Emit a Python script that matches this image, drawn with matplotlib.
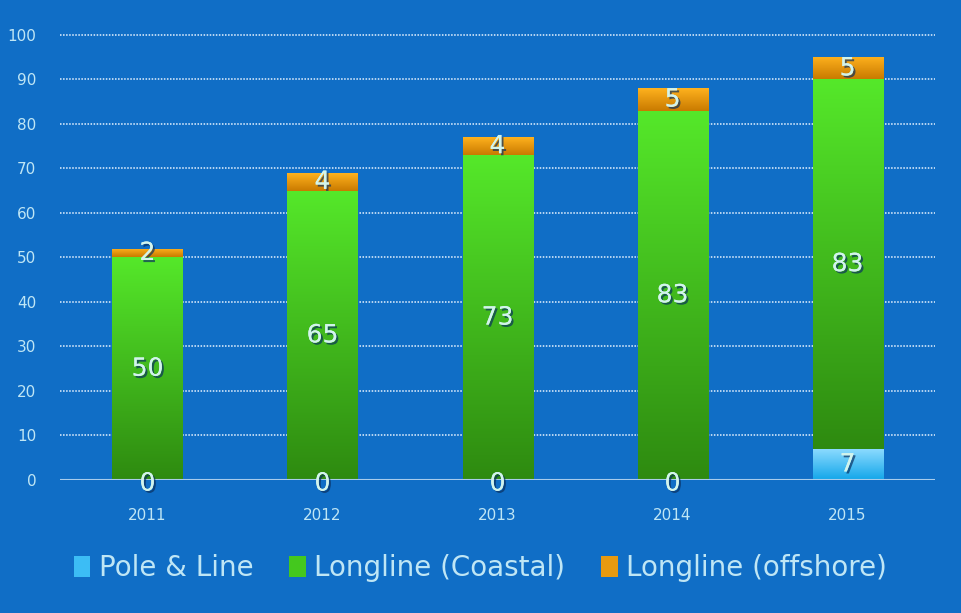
import matplotlib
matplotlib.use("Agg")
import matplotlib.pyplot as plt
import matplotlib.patheffects as pe
import numpy as np
from matplotlib.colors import LinearSegmentedColormap

years = ["2011", "2012", "2013", "2014", "2015"]
pole_line = [0, 0, 0, 0, 7]
longline_coastal = [50, 65, 73, 83, 83]
longline_offshore = [2, 4, 4, 5, 5]
series_names = ["Pole & Line", "Longline (Coastal)", "Longline (offshore)"]
y_ticks = [0, 10, 20, 30, 40, 50, 60, 70, 80, 90, 100]

bg = "#106EC6"
txt = "#BFE6F5"
lbl = "#D2F4EC"

fig = plt.figure(figsize=(9.61, 6.13), dpi=100, facecolor=bg)
ax = fig.add_axes([0.0624, 0.217, 0.9106, 0.726])
ax.set_facecolor(bg)

x = np.arange(len(years))
w = 0.4
grads = [("#8FDCFF", "#12A6EA"), ("#55E82A", "#2E8A10"), ("#FFB21E", "#C97A00")]
solid = ["#3CBDF5", "#44C81E", "#E89A10"]

bottom = np.zeros(len(years))
all_bars = []
for vals, (ctop, cbot), sc, name in zip([pole_line, longline_coastal, longline_offshore], grads, solid, series_names):
    bars = ax.bar(x, vals, w, bottom=bottom, color=sc, label=name, zorder=3, linewidth=0)
    cmap = LinearSegmentedColormap.from_list("g", [cbot, ctop])
    for b in bars:
        if b.get_height() <= 0:
            continue
        x0, y0 = b.get_x(), b.get_y()
        grad = np.linspace(0, 1, 256).reshape(-1, 1)
        im = ax.imshow(grad, cmap=cmap, aspect="auto", origin="lower",
                       extent=[x0, x0 + b.get_width(), y0, y0 + b.get_height()], zorder=4)
        im.set_clip_path(b)
    all_bars.append((bars, vals, bottom.copy()))
    bottom = bottom + np.array(vals)

shadow = [pe.withSimplePatchShadow(offset=(1.5, -1.5), shadow_rgbFace="#0A3060", alpha=0.7), pe.Normal()]
for bars, vals, bot in all_bars:
    for xi, v, b0 in zip(x, vals, bot):
        yy = b0 + v / 2.0 if v > 0 else -0.8
        ax.text(xi, yy, str(v), ha="center", va="center", fontsize=18, color=lbl,
                zorder=6, path_effects=shadow)

ax.set_xlim(-0.5, 4.5)
ax.set_ylim(0, 100)
ax.set_yticks(y_ticks)
for t in y_ticks[1:]:
    ax.axhline(t, color="#E6F2FF", linestyle=(0, (1, 1)), linewidth=1.1, zorder=1, clip_on=False)
ax.axhline(0, color="#A8CCEC", linewidth=1.5, zorder=5)

ax.set_xticks(x)
ax.set_xticklabels(years)
ax.tick_params(axis="both", length=0, colors=txt, labelsize=11)
ax.tick_params(axis="x", pad=20)
ax.tick_params(axis="y", pad=17)
for s in ax.spines.values():
    s.set_visible(False)

leg = fig.legend(loc="lower center", bbox_to_anchor=(0.5, 0.01), ncol=3, frameon=False,
                 fontsize=20, labelcolor=txt, handlelength=0.6, handleheight=0.8,
                 handletextpad=0.3, columnspacing=1.3)

fig.savefig("out.png", dpi=100, facecolor=bg)
